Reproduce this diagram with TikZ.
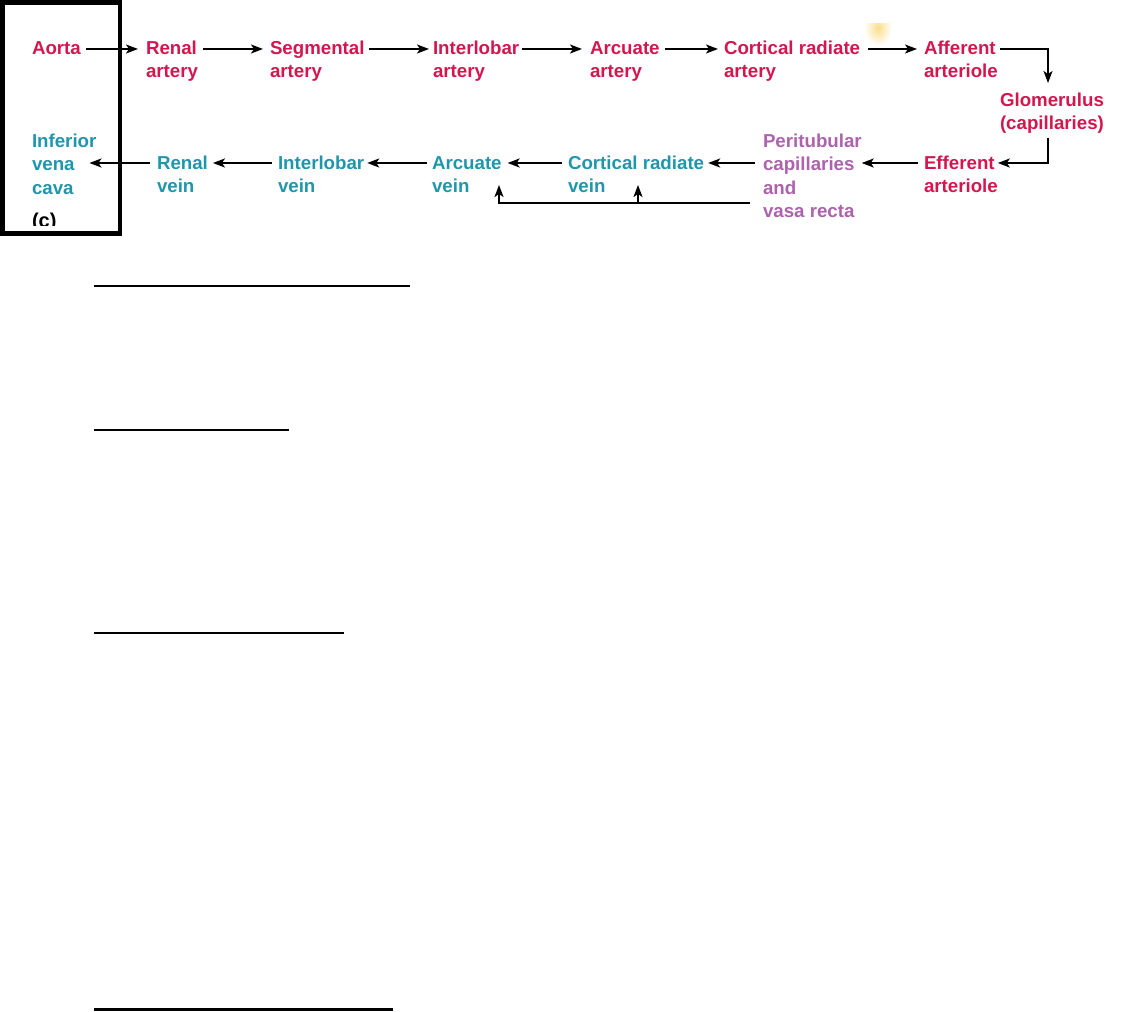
\documentclass[tikz,border=0pt]{standalone}
\usepackage{fontspec}
\setmainfont{Liberation Sans}
\usetikzlibrary{arrows.meta,calc}
\definecolor{art}{RGB}{212,22,78}
\definecolor{ven}{RGB}{32,150,172}
\definecolor{cap}{RGB}{172,98,172}
\tikzset{
  lbl/.style={anchor=north west,inner sep=0pt,outer sep=0pt,align=left,
    font=\fontsize{18.7}{23.3}\selectfont\bfseries,
    execute at begin node={\rule{0pt}{14pt}}},
  artl/.style={lbl,text=art},
  venl/.style={lbl,text=ven},
  capl/.style={lbl,text=cap},
  arr/.style={line width=1.9pt,-{Stealth[length=12pt,width=9pt,inset=3pt]}},
  fline/.style={line width=1.6pt}
}
\begin{document}
\begin{tikzpicture}[x=1pt,y=1pt]
\useasboundingbox (0,0) rectangle (1123,-1011);
% faint yellow smudge
\begin{scope}
\clip (858,-24) rectangle (900,-52);
\shade[inner color={rgb,255:red,250;green,222;blue,140},outer color=white] (878,-28) ellipse (14 and 18);
\end{scope}
% row coordinates
\coordinate (r1) at (0,-49);
\coordinate (r2) at (0,-163);
\coordinate (fb) at (0,-203);
\coordinate (up) at (0,-185);
% arterial row
\node[artl] (aorta) at (32,-41) {Aorta};
\node[artl] (renA) at (146,-41) {Renal\\artery};
\node[artl] (seg) at (270,-41) {Segmental\\artery};
\node[artl] (intA) at (433,-41) {Interlobar\\artery};
\node[artl] (arcA) at (590,-41.5) {Arcuate\\artery};
\node[artl] (corA) at (724,-41) {Cortical radiate\\artery};
\node[artl] (aff) at (924,-41) {Afferent\\arteriole};
\node[artl] (glo) at (1000,-93) {Glomerulus\\(capillaries)};
\node[artl] (eff) at (924,-156) {Efferent\\arteriole};
\node[capl] (peri) at (763,-134) {Peritubular\\capillaries\\and\\vasa recta};
% venous row
\node[venl] (corV) at (568,-156) {Cortical radiate\\vein};
\node[venl] (arcV) at (432,-156.5) {Arcuate\\vein};
\node[venl] (intV) at (278,-156) {Interlobar\\vein};
\node[venl] (renV) at (157,-156) {Renal\\vein};
\node[venl] (ivc) at (32,-134) {Inferior\\vena\\cava};
\begin{scope}
\clip (10,-200) rectangle (110,-225.5);
\node[lbl,font=\fontsize{20}{24}\selectfont\bfseries] (c) at (32,-213) {(c)};
\end{scope}
% frame
\draw[line width=4.5pt] (2.3,-2.3) rectangle (120,-233.5);
% arterial arrows
\draw[arr] ($(aorta.east |- r1)+(5,0)$) -- ($(renA.west |- r1)+(-8,0)$);
\draw[arr] ($(renA.east |- r1)+(5,0)$) -- ($(seg.west |- r1)+(-7,0)$);
\draw[arr] ($(seg.east |- r1)+(4,0)$) -- ($(intA.west |- r1)+(-4,0)$);
\draw[arr] ($(intA.east |- r1)+(3,0)$) -- ($(arcA.west |- r1)+(-8,0)$);
\draw[arr] ($(arcA.east |- r1)+(5,0)$) -- ($(corA.west |- r1)+(-6,0)$);
\draw[arr] ($(corA.east |- r1)+(8,0)$) -- ($(aff.west |- r1)+(-7,0)$);
\draw[arr] ($(aff.east |- r1)+(2,0)$) -| ($(glo.north west)+(48,10)$);
\draw[arr] ($(glo.south west)+(48,-4)$) |- ($(eff.east |- r2)+(0,0)$);
% venous arrows
\draw[arr] ($(eff.west |- r2)+(-6,0)$) -- ($(peri.east |- r2)+(0,0)$);
\draw[arr] ($(peri.west |- r2)+(-8,0)$) -- ($(corV.east |- r2)+(4,0)$);
\draw[arr] ($(corV.west |- r2)+(-6,0)$) -- ($(arcV.east |- r2)+(6,0)$);
\draw[arr] ($(arcV.west |- r2)+(-5,0)$) -- ($(intV.east |- r2)+(3,0)$);
\draw[arr] ($(intV.west |- r2)+(-6,0)$) -- ($(renV.east |- r2)+(5,0)$);
\draw[arr] ($(renV.west |- r2)+(-7,0)$) -- ($(ivc.east |- r2)+(-7,0)$);
% feedback from vasa recta
\draw[arr] ($(peri.west |- fb)+(-13,0)$) -| ($(arcV.west |- up)+(67,0)$);
\draw[arr] ($(corV.west |- fb)+(70,0)$) -- ($(corV.west |- up)+(70,0)$);
% answer lines
\draw[fline] (94,-286) -- (410,-286);
\draw[fline] (94,-430) -- (289,-430);
\draw[fline] (94,-633) -- (344,-633);
\draw[line width=3pt] (94,-1009.5) -- (393,-1009.5);
\end{tikzpicture}
\end{document}
